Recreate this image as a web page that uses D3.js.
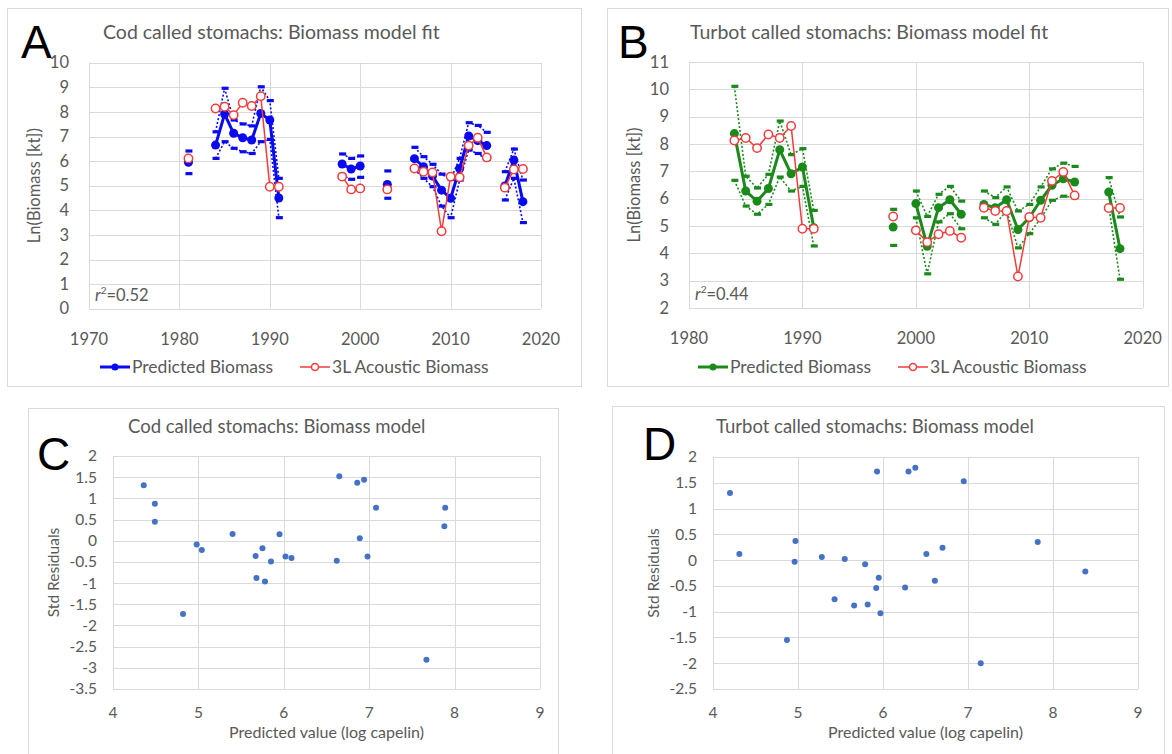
<!DOCTYPE html>
<html>
<head>
<meta charset="utf-8">
<script src="https://cdn.jsdelivr.net/npm/d3@7"></script>
<style>
  body { margin: 0; background: #fff; }
  svg text { font-family: Lato, "Open Sans", sans-serif; fill: #595959; }
  svg text.letter { font-family: "Liberation Sans", Arial, sans-serif; fill: #000; }
</style>
</head>
<body>
<svg id="chart" width="1172" height="754"></svg>
<script>
// ---- data ----
var codYears = [1981, 1984, 1985, 1986, 1987, 1988, 1989, 1990, 1991, 1998, 1999, 2000, 2003,
  2006, 2007, 2008, 2009, 2010, 2011, 2012, 2013, 2014, 2016, 2017, 2018];
var codPredicted = [5.95, 6.65, 7.91, 7.13, 6.95, 6.86, 7.94, 7.67, 4.50, 5.88, 5.68, 5.80, 5.05,
  6.10, 5.77, 5.39, 4.82, 4.49, 5.70, 7.02, 6.83, 6.63, 4.99, 6.04, 4.35];
var codUpper = [6.41, 7.19, 8.96, 7.67, 7.51, 7.43, 9.02, 8.46, 5.30, 6.29, 6.11, 6.21, 5.60,
  6.56, 6.18, 5.87, 5.47, 5.25, 6.11, 7.56, 7.45, 7.17, 5.57, 6.49, 5.23];
var codLower = [5.49, 6.11, 6.79, 6.52, 6.38, 6.31, 6.79, 6.88, 3.70, 5.43, 5.26, 5.34, 4.49,
  5.66, 5.30, 4.96, 4.17, 3.70, 5.23, 6.45, 6.31, 6.07, 4.42, 5.30, 3.50];
var codAcoustic = [6.11, 8.14, 8.21, 7.87, 8.37, 8.24, 8.64, 4.96, 4.96, 5.37, 4.85, 4.89, 4.85,
  5.70, 5.57, 5.54, 3.15, 5.37, 5.34, 6.63, 6.95, 6.15, 4.92, 5.66, 5.68];

var turbotYears = [1984, 1985, 1986, 1987, 1988, 1989, 1990, 1991, 1998, 2000, 2001, 2002, 2003, 2004,
  2006, 2007, 2008, 2009, 2010, 2011, 2012, 2013, 2014, 2017, 2018];
var turbotPredicted = [8.38, 6.28, 5.91, 6.37, 7.79, 6.91, 7.16, 4.94, 4.96, 5.82, 4.26, 5.67, 5.96, 5.43,
  5.79, 5.67, 5.96, 4.87, 5.30, 5.94, 6.49, 6.73, 6.61, 6.24, 4.17];
var turbotUpper = [10.11, 6.82, 6.39, 6.89, 8.84, 7.61, 7.83, 5.57, 5.61, 6.28, 5.35, 6.16, 6.45, 5.91,
  6.28, 6.04, 6.43, 5.55, 5.79, 6.43, 7.09, 7.30, 7.18, 6.77, 5.33];
var turbotLower = [6.67, 5.73, 5.43, 5.79, 6.79, 6.28, 6.45, 4.27, 4.29, 5.30, 3.25, 5.15, 5.45, 4.90,
  5.30, 5.06, 5.55, 4.20, 4.72, 5.27, 5.94, 6.09, 6.04, 5.72, 3.05];
var turbotAcoustic = [8.13, 8.22, 7.85, 8.35, 8.22, 8.66, 4.90, 4.90, 5.35, 4.84, 4.41, 4.70, 4.82, 4.57,
  5.67, 5.55, 5.55, 3.15, 5.33, 5.30, 6.65, 6.98, 6.12, 5.66, 5.66];

var codResX = [4.36, 4.49, 4.49, 4.82, 4.98, 5.04, 5.40, 5.67, 5.75, 5.68, 5.78, 5.85, 5.95,
  6.02, 6.09, 6.62, 6.65, 6.86, 6.94, 6.89, 6.98, 7.08, 7.89, 7.88, 7.67];
var codResY = [1.31, 0.87, 0.45, -1.73, -0.09, -0.22, 0.16, -0.36, -0.18, -0.88, -0.96, -0.49, 0.15,
  -0.37, -0.41, -0.47, 1.52, 1.37, 1.44, 0.06, -0.37, 0.78, 0.78, 0.34, -2.81];

var turbotResX = [4.20, 4.31, 4.97, 4.96, 4.87, 5.28, 5.55, 5.43, 5.66, 5.82, 5.79, 5.93, 5.95,
  5.92, 5.97, 6.26, 6.30, 6.38, 6.51, 6.61, 6.70, 6.95, 7.82, 8.38, 7.15];
var turbotResY = [1.30, 0.12, 0.37, -0.03, -1.55, 0.06, 0.02, -0.76, -0.88, -0.86, -0.08, 1.72, -0.34,
  -0.54, -1.03, -0.53, 1.72, 1.79, 0.12, -0.40, 0.24, 1.53, 0.35, -0.22, -2.00];

var codYTicks = [0, 1, 2, 3, 4, 5, 6, 7, 8, 9, 10];
var turbotYTicks = [2, 3, 4, 5, 6, 7, 8, 9, 10, 11];
var fitXTicksA = [1970, 1980, 1990, 2000, 2010, 2020];
var fitXTicksB = [1980, 1990, 2000, 2010, 2020];
var resXTicks = [4, 5, 6, 7, 8, 9];
var codResYTicks = [2, 1.5, 1, 0.5, 0, -0.5, -1, -1.5, -2, -2.5, -3, -3.5];
var turbotResYTicks = [2, 1.5, 1, 0.5, 0, -0.5, -1, -1.5, -2, -2.5];

var gridColor = "#d9d9d9";
var svg = d3.select("#chart");

// split a series into runs of consecutive years (Excel breaks the line at gaps)
function runs(years, vals) {
  var out = [], cur = [];
  years.forEach(function (yr, i) {
    if (cur.length && yr - cur[cur.length - 1].x > 1) { out.push(cur); cur = []; }
    cur.push({ x: yr, y: vals[i] });
  });
  if (cur.length) out.push(cur);
  return out;
}

function frame(x0, y0, x1, y1) {
  svg.append("rect")
    .attr("x", x0 + 0.5).attr("y", y0 + 0.5)
    .attr("width", x1 - x0).attr("height", y1 - y0)
    .attr("fill", "#fff").attr("stroke", gridColor);
}

function grid(g, x, y, xTicks, yTicks) {
  g.selectAll(".hg").data(yTicks).enter().append("line")
    .attr("x1", x.range()[0]).attr("x2", x.range()[1])
    .attr("y1", function (d) { return Math.round(y(d)) + 0.5; })
    .attr("y2", function (d) { return Math.round(y(d)) + 0.5; })
    .attr("stroke", gridColor);
  g.selectAll(".vg").data(xTicks).enter().append("line")
    .attr("y1", y.range()[0]).attr("y2", y.range()[1])
    .attr("x1", function (d) { return Math.round(x(d)) + 0.5; })
    .attr("x2", function (d) { return Math.round(x(d)) + 0.5; })
    .attr("stroke", gridColor);
}

function tickLabels(g, x, y, xTicks, yTicks, opt) {
  g.selectAll(".xl").data(xTicks).enter().append("text")
    .attr("x", function (d) { return x(d); })
    .attr("y", y.range()[0] + opt.xLabelDy)
    .attr("text-anchor", "middle")
    .attr("font-size", opt.fontSize)
    .text(function (d) { return d; });
  g.selectAll(".yl").data(yTicks).enter().append("text")
    .attr("x", x.range()[0] - opt.yLabelDx)
    .attr("y", function (d) { return y(d); })
    .attr("dy", "0.35em")
    .attr("text-anchor", "end")
    .attr("font-size", opt.fontSize)
    .text(function (d) { return d; });
}

function drawFit(cfg) {
  frame(cfg.frame[0], cfg.frame[1], cfg.frame[2], cfg.frame[3]);
  var x = d3.scaleLinear().domain(cfg.xDomain).range([cfg.plot.left, cfg.plot.right]);
  var y = d3.scaleLinear().domain(cfg.yDomain).range([cfg.plot.bottom, cfg.plot.top]);
  var g = svg.append("g");

  grid(g, x, y, cfg.xTicks, cfg.yTicks);
  tickLabels(g, x, y, cfg.xTicks, cfg.yTicks, { xLabelDy: 36, yLabelDx: 20, fontSize: 16.5 });

  var line = d3.line().x(function (d) { return x(d.x); }).y(function (d) { return y(d.y); });

  // upper / lower bounds: dotted lines with dash markers
  [cfg.upper, cfg.lower].forEach(function (vals) {
    runs(cfg.years, vals).forEach(function (seg) {
      g.append("path").attr("d", line(seg)).attr("fill", "none")
        .attr("stroke", cfg.color).attr("stroke-width", 1.6)
        .attr("stroke-dasharray", "2,2");
    });
    g.selectAll(null).data(cfg.years).enter().append("rect")
      .attr("x", function (d) { return x(d) - 3; })
      .attr("y", function (d, i) { return y(vals[i]) - 1.6; })
      .attr("width", 7).attr("height", 3.2)
      .attr("fill", cfg.color);
  });

  // predicted biomass
  runs(cfg.years, cfg.pred).forEach(function (seg) {
    g.append("path").attr("d", line(seg)).attr("fill", "none")
      .attr("stroke", cfg.color).attr("stroke-width", 3).attr("stroke-linejoin", "round");
  });
  g.selectAll(null).data(cfg.years).enter().append("circle")
    .attr("cx", function (d) { return x(d); })
    .attr("cy", function (d, i) { return y(cfg.pred[i]); })
    .attr("r", 4.5).attr("fill", cfg.color);

  // acoustic biomass
  var red = "#f03c3c";
  runs(cfg.years, cfg.acoustic).forEach(function (seg) {
    g.append("path").attr("d", line(seg)).attr("fill", "none")
      .attr("stroke", red).attr("stroke-width", 1.5);
  });
  g.selectAll(null).data(cfg.years).enter().append("circle")
    .attr("cx", function (d) { return x(d); })
    .attr("cy", function (d, i) { return y(cfg.acoustic[i]); })
    .attr("r", 4.2).attr("fill", "#fff").attr("stroke", red).attr("stroke-width", 1.5);

  // titles
  svg.append("text").attr("class", "letter").attr("x", cfg.letter[1]).attr("y", cfg.letter[2])
    .attr("font-size", 46).text(cfg.letter[0]);
  svg.append("text").attr("x", cfg.titleX).attr("y", 39).attr("font-size", 19.5).text(cfg.title);
  svg.append("text")
    .attr("transform", "translate(" + (cfg.plot.left - 49) + "," + ((cfg.plot.top + cfg.plot.bottom) / 2) + ")rotate(-90)")
    .attr("text-anchor", "middle").attr("font-size", 16.5).text("Ln(Biomass [kt])");

  var r2 = svg.append("text").attr("x", cfg.plot.left + 6).attr("y", cfg.plot.bottom - 8).attr("font-size", 16.5);
  r2.append("tspan").attr("font-style", "italic").text("r");
  r2.append("tspan").attr("font-size", 10).attr("dy", -7).text("2");
  r2.append("tspan").attr("dy", 7).text("=" + cfg.r2);

  // legend
  var lx = cfg.legendX, ly = 367;
  var lg = svg.append("g");
  lg.append("line").attr("x1", lx).attr("x2", lx + 30).attr("y1", ly).attr("y2", ly)
    .attr("stroke", cfg.color).attr("stroke-width", 3);
  lg.append("circle").attr("cx", lx + 15).attr("cy", ly).attr("r", 3.5).attr("fill", cfg.color);
  lg.append("text").attr("x", lx + 32).attr("y", ly).attr("dy", "0.35em").attr("font-size", 17.5)
    .text("Predicted Biomass");
  var lx2 = lx + 200;
  lg.append("line").attr("x1", lx2).attr("x2", lx2 + 30).attr("y1", ly).attr("y2", ly)
    .attr("stroke", red).attr("stroke-width", 1.5);
  lg.append("circle").attr("cx", lx2 + 15).attr("cy", ly).attr("r", 3.5)
    .attr("fill", "#fff").attr("stroke", red).attr("stroke-width", 1.5);
  lg.append("text").attr("x", lx2 + 32).attr("y", ly).attr("dy", "0.35em").attr("font-size", 17.5)
    .text("3L Acoustic Biomass");
}

function drawResid(cfg) {
  frame(cfg.frame[0], cfg.frame[1], cfg.frame[2], cfg.frame[3]);
  var x = d3.scaleLinear().domain([4, 9]).range([cfg.plot.left, cfg.plot.right]);
  var y = d3.scaleLinear().domain(cfg.yDomain).range([cfg.plot.bottom, cfg.plot.top]);
  var g = svg.append("g");

  grid(g, x, y, resXTicks, cfg.yTicks);
  tickLabels(g, x, y, resXTicks, cfg.yTicks, { xLabelDy: 29, yLabelDx: 16, fontSize: 15.5 });

  g.selectAll(null).data(cfg.xs).enter().append("circle")
    .attr("cx", function (d) { return x(d); })
    .attr("cy", function (d, i) { return y(cfg.ys[i]); })
    .attr("r", 3).attr("fill", "#4472c4");

  svg.append("text").attr("class", "letter").attr("x", cfg.letter[1]).attr("y", cfg.letter[2])
    .attr("font-size", 46).text(cfg.letter[0]);
  svg.append("text").attr("x", cfg.titleX).attr("y", 433).attr("font-size", 18.5).text(cfg.title);
  svg.append("text")
    .attr("transform", "translate(" + (cfg.plot.left - 54) + "," + ((cfg.plot.top + cfg.plot.bottom) / 2) + ")rotate(-90)")
    .attr("text-anchor", "middle").attr("font-size", 15.5).text("Std Residuals");
  svg.append("text").attr("x", (cfg.plot.left + cfg.plot.right) / 2).attr("y", cfg.plot.bottom + 49)
    .attr("text-anchor", "middle").attr("font-size", 16).text("Predicted value (log capelin)");
}

drawFit({
  frame: [7, 8, 581, 386],
  plot: { left: 89, right: 541, top: 62.7, bottom: 308.7 },
  xDomain: [1970, 2020], yDomain: [0, 10],
  xTicks: fitXTicksA, yTicks: codYTicks,
  color: "#0a0af0",
  years: codYears, pred: codPredicted, upper: codUpper, lower: codLower, acoustic: codAcoustic,
  title: "Cod called stomachs: Biomass model fit", titleX: 103,
  letter: ["A", 21, 58], r2: "0.52", legendX: 100
});

drawFit({
  frame: [607, 8, 1168, 386],
  plot: { left: 689, right: 1142.7, top: 62, bottom: 308 },
  xDomain: [1980, 2020], yDomain: [2, 11],
  xTicks: fitXTicksB, yTicks: turbotYTicks,
  color: "#1b8a1b",
  years: turbotYears, pred: turbotPredicted, upper: turbotUpper, lower: turbotLower, acoustic: turbotAcoustic,
  title: "Turbot called stomachs: Biomass model fit", titleX: 690,
  letter: ["B", 618, 58], r2: "0.44", legendX: 698
});

drawResid({
  frame: [28, 408, 558, 760],
  plot: { left: 113, right: 540, top: 456, bottom: 689 },
  yDomain: [-3.5, 2], yTicks: codResYTicks,
  xs: codResX, ys: codResY,
  title: "Cod called stomachs: Biomass model", titleX: 128,
  letter: ["C", 37, 470]
});

drawResid({
  frame: [612, 406, 1164, 760],
  plot: { left: 713, right: 1138, top: 457, bottom: 689 },
  yDomain: [-2.5, 2], yTicks: turbotResYTicks,
  xs: turbotResX, ys: turbotResY,
  title: "Turbot called stomachs: Biomass model", titleX: 716,
  letter: ["D", 643, 460]
});
</script>
</body>
</html>
